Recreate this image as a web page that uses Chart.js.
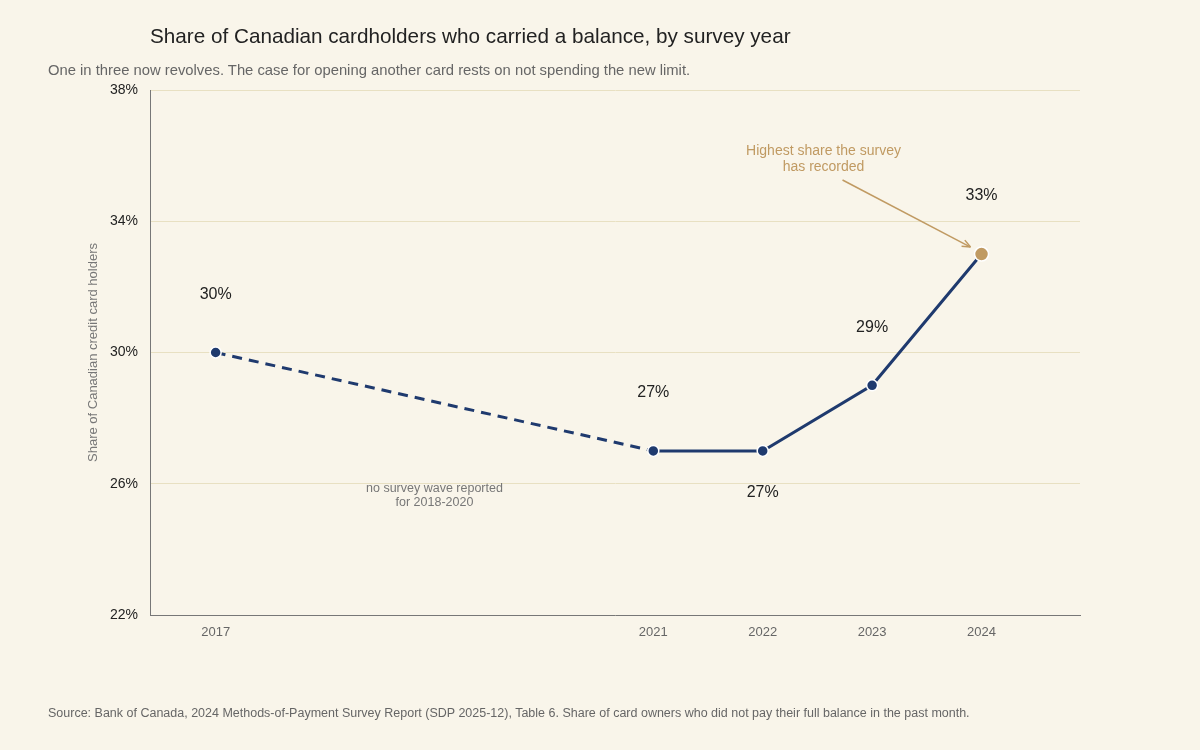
<!DOCTYPE html>
<html><head><meta charset="utf-8">
<script src="https://cdn.jsdelivr.net/npm/chart.js@4/dist/chart.umd.min.js"></script>
<style>
html,body{margin:0;padding:0;background:#f9f5ea;font-family:"Liberation Sans",Arial,sans-serif;}
#wrap{position:relative;width:1200px;height:750px;}
canvas{position:absolute;left:0;top:0;}
.t{position:absolute;white-space:nowrap;}
</style></head><body>
<div id="wrap">
<canvas id="c" width="1200" height="750"></canvas>
<div class="t" style="left:150px;top:24px;font-size:20.7px;color:#222;">Share of Canadian cardholders who carried a balance, by survey year</div>
<div class="t" style="left:48px;top:62px;font-size:14.8px;color:#666;">One in three now revolves. The case for opening another card rests on not spending the new limit.</div>
<div class="t" style="left:48px;top:706px;font-size:12.5px;color:#666;">Source: Bank of Canada, 2024 Methods-of-Payment Survey Report (SDP 2025-12), Table 6. Share of card owners who did not pay their full balance in the past month.</div>
</div>
<script>
const years = [2017, 2021, 2022, 2023, 2024];
const shares = [30, 27, 27, 29, 33];
const labelAbove = [true, true, false, true, true];
const yTicks = [22, 26, 30, 34, 38];

const navy = '#1f3a6e', tan = '#c09a62';

const overlay = {
  id: 'overlay',
  afterDatasetsDraw(chart) {
    const {ctx, scales:{x, y}} = chart;
    ctx.save();
    ctx.font = '16px "Liberation Sans", Arial';
    ctx.fillStyle = '#222';
    ctx.textAlign = 'center'; ctx.textBaseline = 'middle';
    years.forEach((yr, i) => {
      const px = x.getPixelForValue(yr), py = y.getPixelForValue(shares[i]);
      ctx.fillText(shares[i] + '%', px, labelAbove[i] ? py - 58 : py + 42);
    });
    ctx.font = '12.5px "Liberation Sans", Arial';
    ctx.fillStyle = '#777';
    const gx = x.getPixelForValue(2019.0);
    ctx.fillText('no survey wave reported', gx, 489);
    ctx.fillText('for 2018-2020', gx, 503);
    const ax = x.getPixelForValue(2024), ay = y.getPixelForValue(33);
    ctx.font = '14px "Liberation Sans", Arial';
    ctx.fillStyle = tan;
    ctx.fillText('Highest share the survey', ax - 158, 151);
    ctx.fillText('has recorded', ax - 158, 167);
    ctx.strokeStyle = tan; ctx.lineWidth = 1.5;
    const sx = ax - 139, sy = 180, ex = ax - 11, ey = ay - 7;
    ctx.beginPath(); ctx.moveTo(sx, sy); ctx.lineTo(ex, ey); ctx.stroke();
    const ang = Math.atan2(ey - sy, ex - sx);
    ctx.beginPath();
    ctx.moveTo(ex, ey);
    ctx.lineTo(ex - 9*Math.cos(ang-0.4), ey - 9*Math.sin(ang-0.4));
    ctx.moveTo(ex, ey);
    ctx.lineTo(ex - 9*Math.cos(ang+0.4), ey - 9*Math.sin(ang+0.4));
    ctx.stroke();
    ctx.restore();
  }
};

new Chart(document.getElementById('c'), {
  type: 'line',
  data: { datasets: [{
    data: years.map((yr, i) => ({x: yr, y: shares[i]})),
    borderColor: navy, borderWidth: 3,
    pointBackgroundColor: years.map((_, i) => i === years.length-1 ? tan : navy),
    pointBorderColor: '#ffffff', pointBorderWidth: 1.5,
    pointRadius: years.map((_, i) => i === years.length-1 ? 7 : 5.5),
    segment: { borderDash: ctx => ctx.p0DataIndex === 0 ? [10, 7] : undefined },
    tension: 0
  }]},
  options: {
    responsive: false, animation: false,
    layout: { padding: { left: 82, right: 120, top: 90, bottom: 0 } },
    plugins: { legend: {display: false}, tooltip: {enabled: false} },
    scales: {
      x: {
        type: 'linear', min: 2016.4, max: 2024.9,
        afterBuildTicks: s => { s.ticks = years.map(v => ({value: v})); },
        afterFit: s => { s.height = 135; },
        grid: { display: false, drawTicks: false },
        border: { color: '#777' },
        ticks: { color: '#666', padding: 10, font: {size: 13, family: '"Liberation Sans", Arial'}, callback: v => String(v) }
      },
      y: {
        min: 22, max: 38,
        afterBuildTicks: s => { s.ticks = yTicks.map(v => ({value: v})); },
        afterFit: s => { s.width = 68; },
        grid: { color: '#e8e0c2', drawTicks: false },
        border: { color: '#777' },
        ticks: { color: '#222', padding: 12, font: {size: 14, family: '"Liberation Sans", Arial'}, callback: v => v + '%' },
        title: { display: true, text: 'Share of Canadian credit card holders', color: '#777', font: {size: 13, family: '"Liberation Sans", Arial'} }
      }
    }
  },
  plugins: [overlay]
});
</script>
</body></html>
